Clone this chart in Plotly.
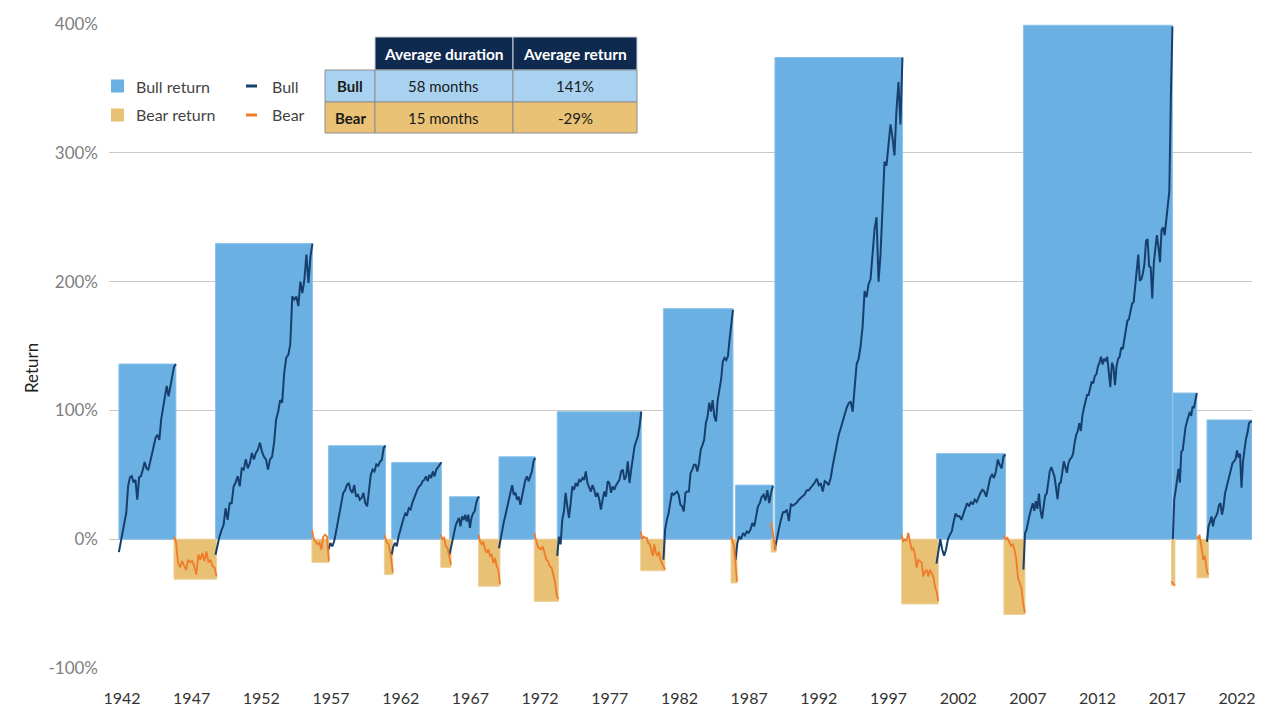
import numpy as np
import plotly.graph_objects as go

# ---------------- data ----------------
bull_start = [1941.78, 1948.71, 1956.82, 1961.35, 1965.50, 1969.05, 1973.23, 1980.85, 1986.02, 1988.85, 2000.44, 2006.68, 2017.40, 2019.85]
bull_end = [1945.87, 1955.67, 1960.91, 1964.92, 1967.64, 1971.65, 1979.26, 1985.84, 1988.71, 1998.00, 2005.39, 2017.37, 2019.12, 2023.08]
bull_return = [136, 229.5, 72.6, 59.6, 33, 64, 99, 179, 42, 374, 66.5, 399, 113.5, 92.6]

bear_start = [1945.73, 1955.63, 1960.83, 1964.87, 1967.58, 1971.58, 1979.22, 1985.70, 1988.57, 1997.94, 2005.28, 2017.30, 2019.13]
bear_end = [1948.79, 1956.85, 1961.44, 1965.61, 1969.12, 1973.32, 1980.96, 1986.13, 1988.92, 2000.57, 2006.79, 2017.55, 2019.96]
bear_return = [-31, -18, -27.5, -22, -36.5, -48.3, -24.5, -34, -10, -50.3, -58.5, -36, -30]

bull_paths = [
    [-10, -3, 3.5, 13, 20.5, 41, 48, 49, 44, 46, 30.7, 48, 49, 54, 60, 55, 54, 60, 67, 73, 79, 81, 77, 93, 103, 110, 119, 111, 119, 129, 134, 136],
    [-12, -4, 2, 7, 11, 24, 15, 28, 28, 41, 44, 49, 41, 55, 54, 62, 55, 59, 67, 62, 67, 69.5, 75, 68, 64, 62, 54, 62, 64, 75, 93, 99, 108, 106, 129, 141, 143, 151, 188.5, 186, 188.5, 181, 200, 191, 201.5, 221, 199, 219.6, 229.5],
    [-8, -3, -5.5, -2, 5, 12.6, 20, 28, 36, 38, 42, 43.6, 38, 36, 42, 33, 34.5, 30.7, 32, 36, 28, 25.5, 36, 50, 54, 52.6, 58, 57, 60, 61.7, 70.8, 72.6],
    [-12, -5.6, -3, -5.5, 2, 7.4, 12.6, 16.5, 20, 19, 24, 23, 28, 32, 34.5, 38.4, 41, 42, 45, 46, 48.8, 45, 50, 47.5, 52.6, 48.8, 54, 56.5, 57.8, 59.6],
    [-12, -5.6, -1.7, 4.8, 11, 13.8, 16.5, 10, 17.7, 15, 19, 13.8, 19, 8.7, 16.5, 20, 21.6, 28, 32, 33],
    [-7, 1, 7.4, 13.8, 19, 25.5, 30.7, 38.4, 42, 34.5, 36, 30.7, 33, 26.8, 33, 42, 46, 48.8, 45, 48.8, 52.6, 60.4, 63],
    [-13, 2, -4, 15, 21.6, 36, 25.5, 16.5, 28, 41, 38.4, 43.6, 41, 46, 45, 47.5, 46, 52.6, 43.6, 39.8, 37, 42, 38.4, 33, 36, 30.7, 23, 30.7, 37, 33, 45, 43.6, 36, 41, 38.4, 42, 43.6, 46, 52.6, 54, 46, 48.8, 60.4, 43.6, 54, 61.7, 72, 76, 80, 87.6, 99],
    [-16, 7.4, 15, 20, 28, 36, 34.5, 36, 37, 34.5, 26.8, 25.5, 21.6, 36, 37, 37, 51.4, 54, 57.8, 57.8, 52.6, 59, 69.5, 73, 77, 90, 95, 106, 99, 108, 95, 91.5, 108, 116, 124, 138, 140.7, 139, 142, 155, 165, 178],
    [-16, -3, 2, 0, 4.8, 3, 6, 5, 7.4, 12.6, 10, 17.7, 25.5, 28, 33, 34.5, 30, 38, 28, 36, 41.5],
    [-7.7, 1, 8, 15, 21, 21, 23, 14, 27, 26, 27, 28.5, 30.7, 32, 33, 35, 38, 38, 40, 42, 44, 47, 42, 43.5, 37, 45, 44, 42, 47.7, 57, 66, 75, 81, 86, 92, 98, 102, 105.5, 107, 99, 118, 135.8, 140, 150, 165, 192.6, 188, 198, 202, 220, 241, 250, 200, 221, 258, 293, 290, 306, 322, 312, 298, 333, 355, 322, 374],
    [-19, -8, 0, -8, -12.8, -8, 0, 3.5, 6, 13.8, 20, 17.7, 18, 15, 19, 23, 28, 25.5, 29, 27, 30.7, 29, 33, 36, 38.4, 37, 33, 39.8, 47.5, 50, 47.5, 52.6, 61.7, 57.8, 55, 64.3, 65.6],
    [-23.6, 4.4, 7.4, 14.7, 19, 23.6, 28, 22, 29.5, 23.6, 35.4, 22, 16, 25, 34, 35.4, 45.7, 53, 56, 51.6, 48.7, 40, 31, 42.8, 44, 51.6, 60.5, 56, 51.6, 59, 62, 63.4, 66.4, 75, 81, 84, 90, 84, 96, 101.8, 107.7, 112, 112, 118, 122.4, 121, 126.8, 128, 134, 137, 141.6, 135.7, 140, 138.6, 141.6, 129.8, 118, 137, 134, 119.5, 134, 140, 141.6, 149, 147.5, 155, 162, 169.6, 171, 178.5, 183, 184, 196, 208, 221, 200.6, 202, 206.5, 214, 231.6, 233, 212, 211, 187, 214, 225.7, 236, 227, 215, 240, 242, 236, 249, 258, 270, 343.7, 398],
    [0, 31, 38, 45.7, 54.6, 44, 68, 69, 79.6, 87, 91.4, 94.4, 98.8, 95.8, 103, 101.8, 107.7, 113.5],
    [-2, 10, 13, 17.7, 10, 16, 17.7, 20.6, 26.5, 28, 19, 25, 35.4, 39.8, 45.7, 50, 53, 59, 60.5, 62, 69, 63.4, 66.4, 40, 60.5, 72, 78, 82.6, 90, 91.4, 91.4],
]

bear_paths = [
    [2, -2, -18, -22, -17, -21, -24, -16, -18, -17, -21, -27.5, -12, -16, -10.7, -17, -9.5, -18, -16, -21, -22, -29],
    [7, 0, -2, -4, -3, -8, 2, 3.5, 2, -17],
    [3.5, -2, -4, -13, -26],
    [3.5, 0, 1, -5.6, -7, -13, -19.8],
    [3.5, -1.7, -4, -2, -8, -10.7, -8, -13, -12, -18.5, -14.6, -21, -23.7, -35],
    [4.8, 0, -5.6, -7, -8, -5.6, -10.7, -16, -17, -21, -22, -29, -33, -44, -46.5],
    [6, 0, 2, 1, 1, -3, -4, -8, -13, -4, -10.7, -13, -9.5, -16, -18.5, -22, -23.7],
    [2, -5.6, -33],
    [13, 0, -9],
    [3.5, -2, 0, -1, 4.8, -3, -8, -7, -12, -22, -16, -17, -18, -29, -25, -23.7, -29, -23.7, -26, -29, -36.6, -40.5, -48.3],
    [3, 0, 1, -2, -5, -4, -8, -15, -30, -34, -38, -50, -57],
    [-33, -36],
    [2, 0, 3.5, -2, -8, -16, -13, -22, -26, -27.5],
]

x_ticks = [1942, 1947, 1952, 1957, 1962, 1967, 1972, 1977, 1982, 1987, 1992, 1997, 2002, 2007, 2012, 2017, 2022]
y_ticks = [-100, 0, 100, 200, 300, 400]

table_rows = ["Bull", "Bear"]
table_header = ["Average duration", "Average return"]
avg_duration = ["58 months", "15 months"]
avg_return = ["141%", "-29%"]

# ---------------- styles ----------------
BULL_FILL = "#6ab0e2"
BEAR_FILL = "#e8c174"
BULL_LINE = "#173f6d"
BEAR_LINE = "#ef7b2b"
HEAD_FILL = "#0f2a4f"
ROW_BULL = "#a8d2f0"
ROW_BEAR = "#e9c276"
FONT = "Lato"

W, H = 1280, 719
ML, MR, MT, MB = 109, 28, 24, 51
PW, PH = W - ML - MR, H - MT - MB


def pxx(p):
    return (p - ML) / PW


def pxy(p):
    return (H - MB - p) / PH


def rect_poly(starts, ends, vals):
    xs, ys = [], []
    for s, e, v in zip(starts, ends, vals):
        xs += [s, s, e, e, s, None]
        ys += [0, v, v, 0, 0, None]
    return xs, ys


def path_xy(starts, ends, paths):
    xs, ys = [], []
    for s, e, p in zip(starts, ends, paths):
        xs += list(np.linspace(s, e, len(p))) + [None]
        ys += list(p) + [None]
    return xs, ys


fig = go.Figure()

bx, by = rect_poly(bull_start, bull_end, bull_return)
fig.add_trace(go.Scatter(x=bx, y=by, fill="toself", fillcolor=BULL_FILL, mode="lines",
                         line=dict(color="#8cc3ea", width=1), name="Bull return", showlegend=False,
                         hoverinfo="skip"))
rx, ry = rect_poly(bear_start, bear_end, bear_return)
fig.add_trace(go.Scatter(x=rx, y=ry, fill="toself", fillcolor=BEAR_FILL, mode="lines",
                         line=dict(color="#efd09a", width=1), name="Bear return", showlegend=False,
                         hoverinfo="skip"))

lx, ly = path_xy(bull_start, bull_end, bull_paths)
fig.add_trace(go.Scatter(x=lx, y=ly, mode="lines", line=dict(color=BULL_LINE, width=2),
                         name="Bull", showlegend=False, connectgaps=False))
ox, oy = path_xy(bear_start, bear_end, bear_paths)
fig.add_trace(go.Scatter(x=ox, y=oy, mode="lines", line=dict(color=BEAR_LINE, width=1.8),
                         name="Bear", showlegend=False, connectgaps=False))

shapes = []
annotations = []

# ---- custom legend ----
legend_items = [
    ("Bull return", BULL_FILL, "box", 134, 86, 111),
    ("Bear return", BEAR_FILL, "box", 134, 115, 111),
    ("Bull", BULL_LINE, "dash", 270, 86, 246),
    ("Bear", BEAR_LINE, "dash", 270, 115, 246),
]
for label, color, kind, tx, ty, sx in legend_items:
    if kind == "box":
        shapes.append(dict(type="rect", xref="paper", yref="paper",
                           x0=pxx(sx), x1=pxx(sx + 13), y0=pxy(ty - 6.5), y1=pxy(ty + 6.5),
                           fillcolor=color, line=dict(width=0)))
    else:
        shapes.append(dict(type="line", xref="paper", yref="paper",
                           x0=pxx(sx), x1=pxx(sx + 11), y0=pxy(ty), y1=pxy(ty),
                           line=dict(color=color, width=3)))
    annotations.append(dict(text=label, xref="paper", yref="paper", x=pxx(tx), y=pxy(ty),
                            xanchor="left", yanchor="middle", showarrow=False,
                            font=dict(family=FONT, size=16, color="#444444")))

# ---- summary table ----
cols = [325, 375, 513, 637]
rows = [37, 70, 102, 133]
for j in range(2):
    shapes.append(dict(type="rect", xref="paper", yref="paper",
                       x0=pxx(cols[j + 1]), x1=pxx(cols[j + 2]), y0=pxy(rows[1]), y1=pxy(rows[0]),
                       fillcolor=HEAD_FILL, line=dict(color="#c9d0da", width=1)))
    annotations.append(dict(text="<b>" + table_header[j] + "</b>", xref="paper", yref="paper",
                            x=pxx((cols[j + 1] + cols[j + 2]) / 2), y=pxy((rows[0] + rows[1]) / 2),
                            xanchor="center", yanchor="middle", showarrow=False,
                            font=dict(family=FONT, size=15.5, color="white")))
row_fill = [ROW_BULL, ROW_BEAR]
for i in range(2):
    cells = ["<b>" + table_rows[i] + "</b>", avg_duration[i], avg_return[i]]
    for j in range(3):
        shapes.append(dict(type="rect", xref="paper", yref="paper",
                           x0=pxx(cols[j]), x1=pxx(cols[j + 1]), y0=pxy(rows[i + 2]), y1=pxy(rows[i + 1]),
                           fillcolor=row_fill[i], line=dict(color="#8f8f8f", width=1)))
        annotations.append(dict(text=cells[j], xref="paper", yref="paper",
                                x=pxx((cols[j] + cols[j + 1]) / 2), y=pxy((rows[i + 1] + rows[i + 2]) / 2),
                                xanchor="center", yanchor="middle", showarrow=False,
                                font=dict(family=FONT, size=15, color="#1a1a1a")))

# ---- y axis title ----
annotations.append(dict(text="Return", xref="paper", yref="paper", x=pxx(31), y=pxy(368),
                        xanchor="center", yanchor="middle", textangle=-90, showarrow=False,
                        font=dict(family=FONT, size=17, color="#222222")))

fig.update_layout(
    width=W, height=H,
    margin=dict(l=ML, r=MR, t=MT, b=MB),
    paper_bgcolor="white", plot_bgcolor="white",
    showlegend=False,
    shapes=shapes, annotations=annotations,
    xaxis=dict(range=[1941.07, 2023.08], tickvals=x_ticks, ticktext=[str(t) for t in x_ticks],
               showgrid=False, zeroline=False, showline=False, ticks="",
               tickfont=dict(family=FONT, size=16, color="#333333"), ticklabelstandoff=19),
    yaxis=dict(range=[-100, 400], tickvals=y_ticks, ticktext=[f"{t}%" for t in y_ticks],
               showgrid=True, gridcolor="#c8c8c8", gridwidth=1, zeroline=False, showline=False,
               ticks="", tickfont=dict(family=FONT, size=17, color="#808080"), ticklabelstandoff=10),
)

fig.write_html("out.html")
